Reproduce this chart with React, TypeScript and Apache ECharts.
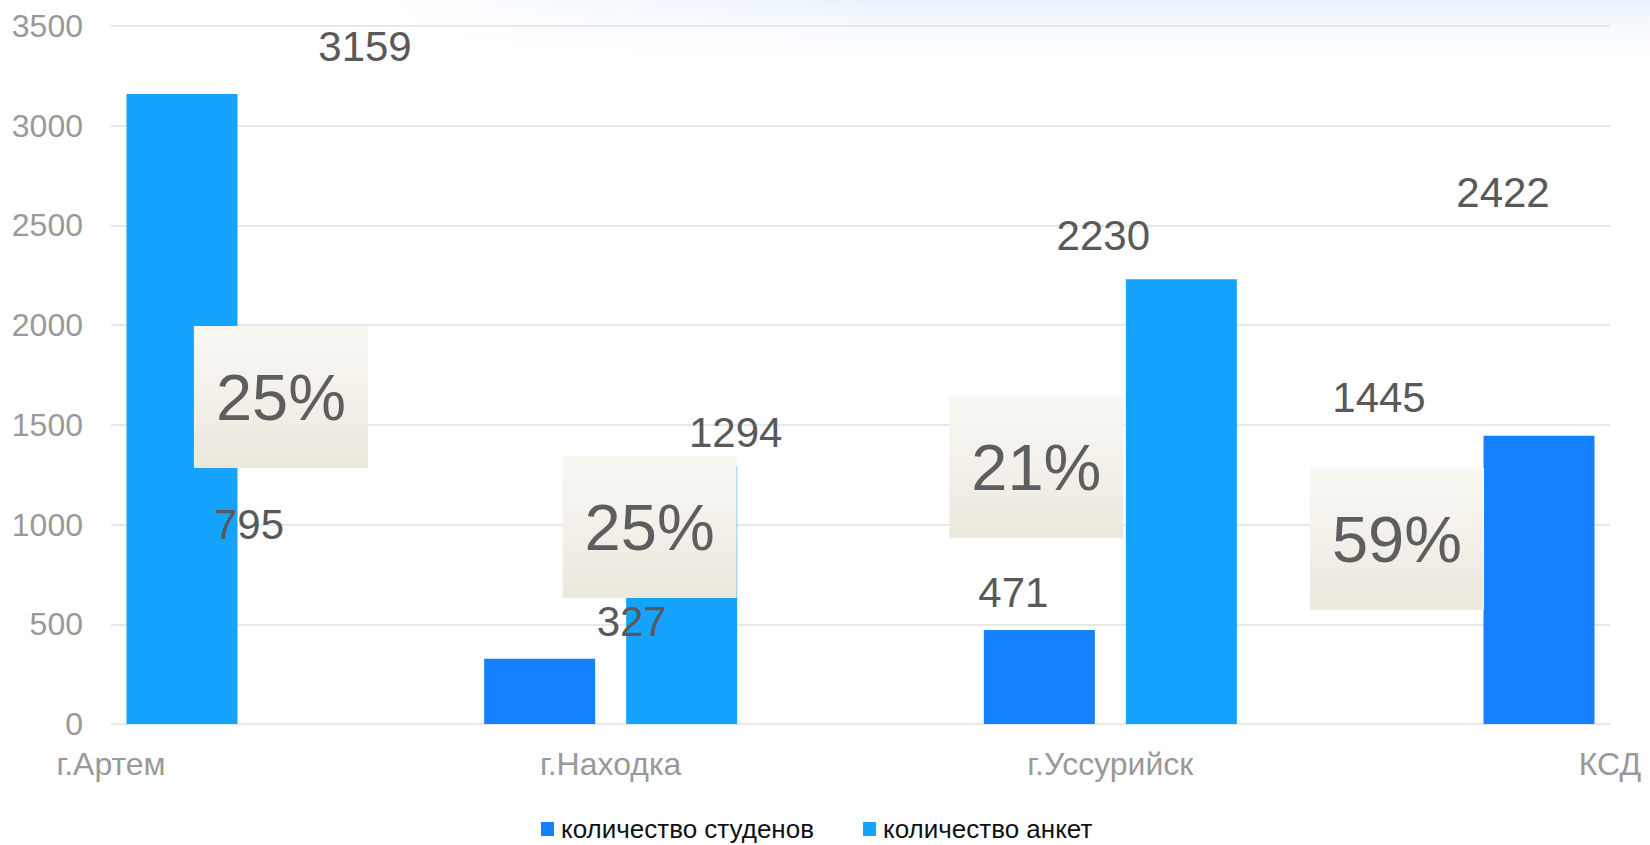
import React, { useEffect, useRef } from "react";
import * as echarts from "echarts";

// ---- data ----
const categories = ["г.Артем", "г.Находка", "г.Уссурийск", "КСД"];
const seriesNames = ["количество студенов", "количество анкет"];
const students = [795, 327, 471, 1445];
const ankets = [3159, 1294, 2230, 2422];
const percentLabels = ["25%", "25%", "21%", "59%"];
const yTicks = { min: 0, max: 3500, interval: 500 };

// ---- layout / style constants ----
const BAR_WIDTH = 111;
const BAR_SHIFT = [-71, 71]; // bar centre relative to category centre
const studentLabelOffsets = [[138, -41], [21, -37], [-97, -38], [-231, -38]];
const anketLabelOffsets = [[254, -48], [125, -33], [-7, -44], [-107, -48]];
const percentOffsets = [[170, -327], [39, -197], [-74, -257], [-213, -185]];

const FONT = "'Liberation Sans', Arial, sans-serif";
const DARK = "#1581fe";
const LIGHT = "#15a3fe";
const LABEL_COLOR = "#595959";

export default function App() {
  const ref = useRef<HTMLDivElement>(null);

  useEffect(() => {
    if (!ref.current) return;
    const chart = echarts.init(ref.current, null, { renderer: "svg" });

    const barSeries = (name: string, values: number[], color: string, shift: number) => ({
      name,
      type: "custom",
      itemStyle: { color },
      z: 2,
      encode: { x: 0, y: 1 },
      data: values.map((v, i) => [i, v]),
      renderItem: (params: any, api: any) => {
        const i = api.value(0);
        const v = api.value(1);
        const base = api.coord([i, 0]);
        const top = api.coord([i, v]);
        const cs = params.coordSys;
        const shape = echarts.graphic.clipRectByRect(
          {
            x: base[0] + shift - BAR_WIDTH / 2,
            y: top[1],
            width: BAR_WIDTH,
            height: base[1] - top[1],
          },
          { x: cs.x, y: cs.y, width: cs.width, height: cs.height }
        );
        if (!shape) return null;
        return { type: "rect", shape, style: { fill: color } };
      },
    });

    const valueLabelSeries = (name: string, values: number[], offsets: number[][]) => ({
      name,
      type: "scatter",
      symbolSize: 1,
      itemStyle: { color: "transparent", opacity: 1 },
      silent: true,
      clip: false,
      z: 5,
      data: values.map((v, i) => ({
        value: [i, v],
        label: { offset: offsets[i] },
      })),
      label: {
        show: true,
        position: "inside",
        formatter: (p: any) => String(p.value[1]),
        fontFamily: FONT,
        fontSize: 42,
        color: LABEL_COLOR,
      },
    });

    chart.setOption({
      animation: false,
      backgroundColor: "#ffffff",
      textStyle: { fontFamily: FONT },
      graphic: [
        {
          type: "rect",
          z: -10,
          silent: true,
          shape: { x: 380, y: 0, width: 1270, height: 70 },
          style: {
            fill: new echarts.graphic.LinearGradient(0, 0, 0, 1, [
              { offset: 0, color: "rgba(228,240,252,0.85)" },
              { offset: 1, color: "rgba(255,255,255,0)" },
            ]),
          },
        },
        {
          type: "rect",
          z: -9,
          silent: true,
          shape: { x: 380, y: 0, width: 500, height: 70 },
          style: {
            fill: new echarts.graphic.LinearGradient(0, 0, 1, 0, [
              { offset: 0, color: "rgba(255,255,255,1)" },
              { offset: 1, color: "rgba(255,255,255,0)" },
            ]),
          },
        },
      ],
      legend: {
        data: seriesNames,
        left: 536,
        top: 810,
        icon: "rect",
        itemWidth: 13,
        itemHeight: 14,
        itemGap: 49,
        textStyle: {
          fontFamily: FONT,
          fontSize: 26,
          lineHeight: 28,
          color: "#111111",
          padding: [0, 0, 0, 2],
        },
      },
      grid: { left: 111, right: 40, top: 26, bottom: 121 },
      xAxis: {
        type: "category",
        data: categories,
        boundaryGap: false,
        axisLine: { show: false },
        axisTick: { show: false },
        axisLabel: {
          interval: 0,
          margin: 24,
          fontFamily: FONT,
          fontSize: 32,
          color: "#999999",
        },
      },
      yAxis: {
        type: "value",
        min: yTicks.min,
        max: yTicks.max,
        interval: yTicks.interval,
        axisLine: { show: false },
        axisTick: { show: false },
        axisLabel: {
          margin: 28,
          fontFamily: FONT,
          fontSize: 32,
          color: "#999999",
          formatter: (v: number) => String(v),
        },
        splitLine: { lineStyle: { color: "#e8e8e8", width: 2 } },
      },
      series: [
        barSeries(seriesNames[0], students, DARK, BAR_SHIFT[0]),
        barSeries(seriesNames[1], ankets, LIGHT, BAR_SHIFT[1]),
        valueLabelSeries("studentsLabels", students, studentLabelOffsets),
        valueLabelSeries("anketsLabels", ankets, anketLabelOffsets),
        {
          name: "percent",
          type: "scatter",
          symbolSize: 1,
          itemStyle: { color: "transparent", opacity: 1 },
          silent: true,
          clip: false,
          z: 4,
          data: percentLabels.map((t, i) => ({
            value: [i, 0],
            label: { offset: percentOffsets[i], formatter: t },
          })),
          label: {
            show: true,
            position: "inside",
            fontFamily: FONT,
            fontSize: 65,
            lineHeight: 66,
            color: "#5e5e5e",
            padding: [41, 22, 35, 22],
            backgroundColor: new echarts.graphic.LinearGradient(0, 0, 0, 1, [
              { offset: 0, color: "#f9f8f4" },
              { offset: 1, color: "#ebe9dd" },
            ]),
          },
        },
      ],
    });

    return () => chart.dispose();
  }, []);

  return (
    <div
      ref={ref}
      style={{ position: "fixed", left: 0, top: 0, width: 1650, height: 845 }}
    />
  );
}
